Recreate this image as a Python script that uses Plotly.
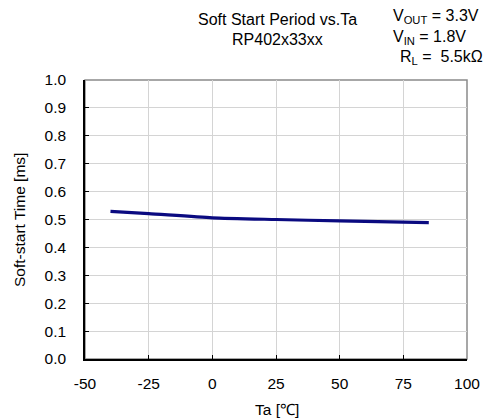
import plotly.graph_objects as go

ta = [-40, -25, 0, 25, 50, 85]
t_ss = [0.529, 0.521, 0.506, 0.500, 0.495, 0.489]
x_ticks = [-50, -25, 0, 25, 50, 75, 100]
y_ticks = [0.0, 0.1, 0.2, 0.3, 0.4, 0.5, 0.6, 0.7, 0.8, 0.9, 1.0]

font = "Liberation Sans, Arial, sans-serif"
FS = 15.5
FH = 16
W, H, L, R, T, B = 485, 419, 85, 18, 80, 60
pw, ph = W - L - R, H - T - B

fig = go.Figure()
fig.add_trace(go.Scatter(x=ta, y=t_ss, mode="lines",
                         line=dict(color="#0a0a80", width=3.2, shape="spline", smoothing=0.6),
                         showlegend=False, hoverinfo="skip"))

fig.update_layout(
    width=W, height=H, margin=dict(l=L, r=R, t=T, b=B, autoexpand=False),
    paper_bgcolor="white", plot_bgcolor="white",
    font=dict(family=font, size=FS, color="black"),
    xaxis=dict(range=[-50, 100], tickvals=x_ticks, ticktext=[str(v) for v in x_ticks],
               showgrid=True, gridcolor="#d4d4d4", gridwidth=1,
               showline=True, linecolor="black", linewidth=1.5,
               ticks="inside", ticklen=4, tickcolor="black", automargin=False,
               tickfont=dict(family=font, size=FS), ticklabelstandoff=10, zeroline=False),
    yaxis=dict(range=[0, 1.0], tickvals=y_ticks, ticktext=[f"{v:.1f}" for v in y_ticks],
               showgrid=True, gridcolor="#d4d4d4", gridwidth=1,
               showline=True, linecolor="black", linewidth=1.5,
               ticks="inside", ticklen=4, tickcolor="black", automargin=False,
               tickfont=dict(family=font, size=FS), ticklabelstandoff=14, zeroline=False),
    shapes=[dict(type="rect", xref="paper", yref="paper", x0=0, y0=0, x1=1, y1=1,
                 line=dict(color="#8a8a8a", width=1.5), layer="below")],
)

def px(xp): return (xp - L) / pw
def py(yp): return (H - B - yp) / ph

for txt, x, y, anchor, ang, fs in [
    ("Soft Start Period vs.Ta", 277.5, 19.5, "center", 0, FH),
    ("RP402x33xx", 277, 40, "center", 0, FH),
    ("V<sub>OUT</sub> = 3.3V", 391, 17, "left", 0, FH),
    ("V<sub>IN</sub> = 1.8V", 391, 37, "left", 0, FH),
    ("R<sub>L</sub> =  5.5kΩ", 398, 57.5, "left", 0, FH),
    ("Ta [℃]", 277, 409, "center", 0, FS),
    ("Soft-start Time [ms]", 19, 220, "center", -90, FS),
]:
    fig.add_annotation(text=txt, x=px(x), y=py(y), xref="paper", yref="paper",
                       xanchor=anchor, yanchor="middle", showarrow=False, textangle=ang,
                       font=dict(family=font, size=fs, color="black"))

fig.write_html("out.html", config={"displayModeBar": False},
               post_script="document.body.style.margin='0px';")
